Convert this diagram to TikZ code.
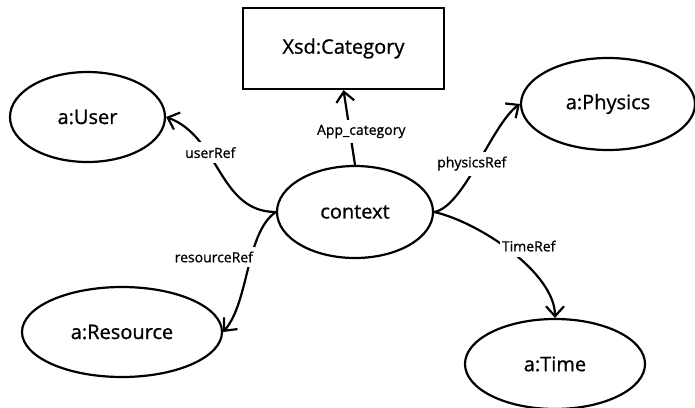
\documentclass[tikz,border=0pt]{standalone}
\usepackage{fontspec}
\setmainfont{Open Sans}[FakeBold=0.9]
\usepackage{tikz}
\usetikzlibrary{shapes.geometric}
\usetikzlibrary{arrows.meta}

\tikzset{
  cls/.style={ellipse,draw,line width=2.2pt,inner sep=0pt,font=\fontsize{20}{24}\selectfont},
  lit/.style={rectangle,draw,line width=2.2pt,inner sep=0pt,font=\fontsize{20}{24}\selectfont},
  rel/.style={line width=2.2pt,-{Straight Barb[length=10pt,width=18pt]}},
  lbl/.style={fill=white,inner xsep=2pt,inner ysep=5pt,font=\fontsize{14}{16}\selectfont}
}

\begin{document}
\begin{tikzpicture}[x=1pt,y=-1pt]
        \useasboundingbox (0,0) rectangle (695,407);

        \node[lit,minimum width=201pt,minimum height=81pt] (cat) at (343.5,48.5) {Xsd:Category};
        \node[cls,minimum width=156pt,minimum height=92pt] (ctx) at (355,212) {context};
        \node[cls,minimum width=155pt,minimum height=90pt] (user) at (87.5,117) {a:User};
        \node[cls,minimum width=200pt,minimum height=90pt] (res) at (122,332) {a:Resource};
        \node[cls,minimum width=174pt,minimum height=92pt] (phy) at (608,104) {a:Physics};
        \node[cls,minimum width=180pt,minimum height=90pt] (time) at (555,364) {a:Time};

        \draw[rel] (ctx.north)--node[lbl,xshift=12pt,yshift=-4pt]{App\_category}(cat.south);
        \draw[rel] (ctx.west) .. controls +(-57.5,0) and +(54,20) .. node[lbl,pos=0.65,xshift=3pt]{userRef} (user.east);
        \draw[rel] (ctx.west) .. controls +(-30,20) and +(26,-30) .. node[lbl,pos=0.42,anchor=east,xshift=5pt]{resourceRef} (res.east);
        \draw[rel] (ctx.east) .. controls +(30,-5) and +(-28,20) .. node[lbl,pos=0.5,xshift=-6pt]{physicsRef} (phy.west);
        \draw[rel] (ctx.east) .. controls +(45,10) and +(0,-45) .. node[lbl,pos=0.45,anchor=west,xshift=-5pt]{TimeRef} (time.north);
    \end{tikzpicture}
\end{document}
